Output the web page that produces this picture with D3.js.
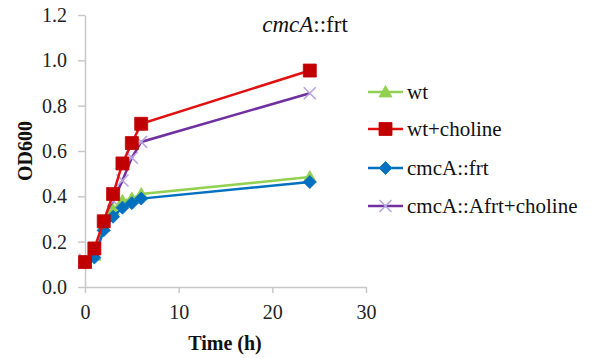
<!DOCTYPE html>
<html>
<head>
<meta charset="utf-8">
<script src="https://cdn.jsdelivr.net/npm/d3@7"></script>
<style>
	body { margin: 0; background: #fff; }
</style>
</head>
<body>
<svg id="chart" width="595" height="358"></svg>
<script>
	'use strict';

	// sampling times (h)
	var times = [0, 1, 2, 3, 4, 5, 6, 24];

	var wt = [0.11, 0.14, 0.27, 0.34, 0.38, 0.39, 0.41, 0.485];
	var wtCholine = [0.11, 0.17, 0.29, 0.41, 0.545, 0.635, 0.72, 0.955];
	var cmcA = [0.11, 0.13, 0.25, 0.31, 0.35, 0.37, 0.39, 0.463];
	var cmcACholine = [0.12, 0.15, 0.27, 0.38, 0.47, 0.57, 0.64, 0.855];

	var seriesNames = ['wt', 'wt+choline', 'cmcA::frt', 'cmcA::Afrt+choline'];

	var xTicks = [0, 10, 20, 30];
	var yTicks = [0, 0.2, 0.4, 0.6, 0.8, 1.0, 1.2];

	var FONT = "'Liberation Serif', 'Times New Roman', serif";

	var series = [
		{ name: seriesNames[0], values: wt, line: '#92D050', fill: '#92D050', shape: 'triangle' },
		{ name: seriesNames[1], values: wtCholine, line: '#E01010', fill: '#C00000', shape: 'square' },
		{ name: seriesNames[2], values: cmcA, line: '#0070C0', fill: '#0070C0', shape: 'diamond' },
		{ name: seriesNames[3], values: cmcACholine, line: '#7030A0', fill: '#B8A4E4', shape: 'cross' }
	];

	var svg = d3.select('#chart');

	var x = d3.scaleLinear().domain([0, 30]).range([85, 366]);
	var y = d3.scaleLinear().domain([0, 1.2]).range([287, 15]);

	// axes
	var xAxis = svg.append('g')
		.attr('transform', 'translate(0,' + y(0) + ')')
		.call(d3.axisBottom(x).tickValues(xTicks).tickSize(6).tickSizeOuter(0).tickPadding(12));

	var yAxis = svg.append('g')
		.attr('transform', 'translate(' + x(0) + ',0)')
		.call(d3.axisLeft(y).tickValues(yTicks).tickSize(7).tickSizeOuter(0).tickPadding(11)
			.tickFormat(d3.format('.1f')));

	[xAxis, yAxis].forEach(function(ax) {
		ax.attr('font-family', null).attr('font-size', null);
		ax.select('.domain').attr('stroke', '#c8c8c8').attr('stroke-width', 1.5);
		ax.selectAll('.tick line').attr('stroke', '#c8c8c8').attr('stroke-width', 1.5);
		ax.selectAll('.tick text')
			.attr('fill', '#222')
			.style('font-family', FONT)
			.style('font-size', '20px');
	});

	// axis titles
	svg.append('text')
		.attr('x', 225).attr('y', 350)
		.attr('text-anchor', 'middle')
		.attr('fill', '#111')
		.style('font-family', FONT)
		.style('font-size', '20px').style('font-weight', 'bold')
		.text('Time (h)');

	svg.append('text')
		.attr('transform', 'translate(32,151) rotate(-90)')
		.attr('text-anchor', 'middle')
		.attr('fill', '#111')
		.style('font-family', FONT)
		.style('font-size', '20px').style('font-weight', 'bold')
		.text('OD600');

	// title
	var title = svg.append('text')
		.attr('x', 305).attr('y', 32)
		.attr('text-anchor', 'middle')
		.attr('fill', '#111')
		.style('font-family', FONT)
		.style('font-size', '23px');
	title.append('tspan').style('font-style', 'italic').text('cmcA');
	title.append('tspan').text('::frt');

	function markerPath(shape) {
		if (shape === 'triangle') return 'M0,-6.5L6.5,5L-6.5,5Z';
		if (shape === 'square') return 'M-6.5,-6.5H6.5V6.5H-6.5Z';
		if (shape === 'diamond') return 'M0,-6.5L6.5,0L0,6.5L-6.5,0Z';
		return 'M-6,-6L6,6M-6,6L6,-6';
	}

	function drawMarker(g, s, cx, cy) {
		var p = g.append('path')
			.attr('d', markerPath(s.shape))
			.attr('transform', 'translate(' + cx + ',' + cy + ')');
		if (s.shape === 'cross') {
			p.attr('fill', 'none').attr('stroke', s.fill).attr('stroke-width', 1.6);
		} else {
			p.attr('fill', s.fill).attr('stroke', s.fill).attr('stroke-width', 0.8);
		}
	}

	var line = d3.line()
		.x(function(d) { return x(d[0]); })
		.y(function(d) { return y(d[1]); });

	var drawOrder = [3, 0, 2, 1];
	drawOrder.forEach(function(i) {
		var s = series[i];
		var pts = times.map(function(t, k) { return [t, s.values[k]]; });
		var g = svg.append('g');
		g.append('path')
			.datum(pts)
			.attr('fill', 'none')
			.attr('stroke', s.line)
			.attr('stroke-width', 2.5)
			.attr('d', line);
		pts.forEach(function(d) { drawMarker(g, s, x(d[0]), y(d[1])); });
	});

	// legend
	var legendY = [92, 129, 168, 206];
	series.forEach(function(s, i) {
		var g = svg.append('g');
		g.append('line')
			.attr('x1', 368).attr('x2', 403)
			.attr('y1', legendY[i]).attr('y2', legendY[i])
			.attr('stroke', s.line).attr('stroke-width', 2.5);
		drawMarker(g, s, 385.5, legendY[i]);
		g.append('text')
			.attr('x', 407).attr('y', legendY[i] + 7)
			.attr('fill', '#111')
			.style('font-family', FONT)
			.style('font-size', '21px')
			.text(s.name);
	});
</script>
</body>
</html>
